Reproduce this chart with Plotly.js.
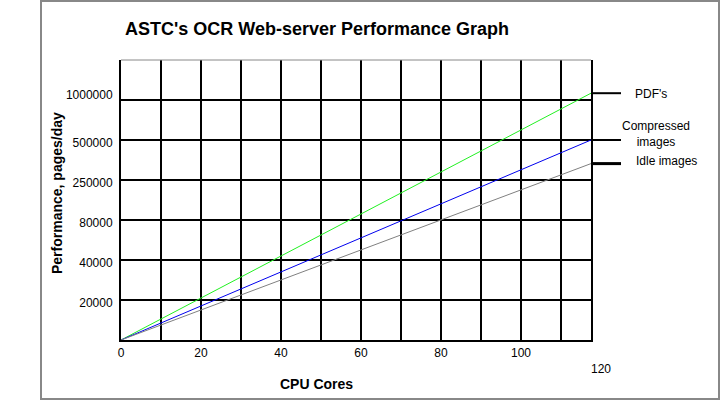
<!DOCTYPE html>
<html>
<head>
<meta charset="utf-8">
<script src="https://cdn.plot.ly/plotly-3.0.1.min.js"></script>
<style>html,body{margin:0;padding:0;background:#fff;}#chart{width:722px;height:401px;}</style>
</head>
<body>
<div id="chart"></div>
<script>
// Data (y values are positions on the chart's stepped performance scale: tick index)
const cores = [0, 117.5];
const pdfPerf = [0, 6.17];
const compressedPerf = [0, 5.0];
const idlePerf = [0, 4.41];
const seriesNames = ["PDF's", "Compressed<br>images", "Idle images"];
const seriesColors = ["#22f022", "#0000ee", "#808080"];
const yTickVals = [1, 2, 3, 4, 5, 6];
const yTickText = ["20000", "40000", "80000", "250000", "500000", "1000000"];
const xTickVals = [0, 20, 40, 60, 80, 100];
const xExtraTick = 120;

const W = 722, H = 401;
const L = 121, R = 591, T = 60, B = 340;
const pw = R - L, ph = B - T;
const xRange = [0, 117.5], yRange = [0, 7];
const px = v => (v - L) / pw;      // pixel x -> paper
const py = v => (B - v) / ph;      // pixel y -> paper
const FONT = "Liberation Sans, Arial, sans-serif";

const series = [pdfPerf, compressedPerf, idlePerf];
const traces = series.map((s, i) => ({
  x: cores, y: s, type: 'scatter', mode: 'lines',
  line: {color: seriesColors[i], width: 1}, showlegend: false, hoverinfo: 'skip'
}));

const shapes = [
  // outer frame
  {type: 'rect', xref: 'paper', yref: 'paper', x0: px(41), x1: px(719), y0: py(399), y1: py(1),
   line: {color: '#888', width: 2}, fillcolor: 'rgba(0,0,0,0)', layer: 'below'},
  // top thin line of plot area
  {type: 'line', xref: 'paper', yref: 'paper', x0: 0, x1: 1, y0: 1, y1: 1,
   line: {color: '#888', width: 1}}
];
// label connector lines
series.forEach((s, i) => {
  shapes.push({type: 'line', xref: 'paper', yref: 'y', x0: 1, x1: px(621),
    y0: s[s.length - 1], y1: s[s.length - 1],
    line: {color: 'black', width: i === 2 ? 3 : 2}});
});

// y tick text: the top label sits above its gridline in the reference
const yTickDisplay = yTickText.map((t, i) => i === yTickText.length - 1 ? t + '<br> ' : t);

const annotations = [
  {text: 'Performance, pages/day', xref: 'paper', yref: 'paper', x: px(57), y: py(193),
   textangle: -90, showarrow: false, font: {family: FONT, size: 14, color: '#000', weight: 'bold'},
   xanchor: 'center', yanchor: 'middle'},
  {text: 'CPU Cores', xref: 'paper', yref: 'paper', x: px(316), y: py(384),
   showarrow: false, font: {family: FONT, size: 14, color: '#000', weight: 'bold'},
   xanchor: 'center', yanchor: 'middle'},
  {text: String(xExtraTick), xref: 'paper', yref: 'paper',
   x: (xExtraTick - xRange[0]) / (xRange[1] - xRange[0]), y: py(369),
   showarrow: false, font: {family: FONT, size: 12, color: '#000'}, xanchor: 'center', yanchor: 'middle'},
  {text: seriesNames[0], xref: 'paper', yref: 'paper', x: px(651), y: py(94),
   showarrow: false, font: {family: FONT, size: 12, color: '#000'}, xanchor: 'center', yanchor: 'middle'},
  {text: seriesNames[1], xref: 'paper', yref: 'paper', x: px(656), y: py(134),
   showarrow: false, font: {family: FONT, size: 12, color: '#000'}, xanchor: 'center', yanchor: 'middle'},
  {text: seriesNames[2], xref: 'paper', yref: 'paper', x: px(666), y: py(161),
   showarrow: false, font: {family: FONT, size: 12, color: '#000'}, xanchor: 'center', yanchor: 'middle'}
];

const layout = {
  width: W, height: H,
  margin: {l: L, r: W - R, t: T, b: H - B, pad: 0},
  paper_bgcolor: '#fff', plot_bgcolor: '#fff',
  font: {family: FONT, size: 12, color: '#000'},
  title: {text: "ASTC's OCR Web-server Performance Graph", xref: 'paper', x: px(125), xanchor: 'left',
          yref: 'container', y: 1 - 29 / H, yanchor: 'middle',
          font: {family: FONT, size: 18, color: '#000', weight: 'bold'}},
  xaxis: {range: xRange, tickmode: 'array', tickvals: xTickVals, ticks: '',
          showgrid: true, gridcolor: '#000', gridwidth: 2, zeroline: false,
          showline: true, linecolor: '#000', linewidth: 2,
          minor: {dtick: 10, tick0: 0, showgrid: true, gridcolor: '#000', gridwidth: 2},
          tickfont: {family: FONT, size: 12, color: '#000'}, ticklabelstandoff: 1, fixedrange: true},
  yaxis: {range: yRange, tickmode: 'array', tickvals: yTickVals, ticktext: yTickDisplay, ticks: '',
          showgrid: true, gridcolor: '#000', gridwidth: 2, zeroline: false,
          showline: true, linecolor: '#000', linewidth: 2, mirror: true,
          tickfont: {family: FONT, size: 12, color: '#000'}, ticklabelstandoff: 4,
          ticklabelshift: 3, fixedrange: true},
  shapes: shapes,
  annotations: annotations,
  showlegend: false
};

Plotly.newPlot('chart', traces, layout, {staticPlot: true, displayModeBar: false});
</script>
</body>
</html>
